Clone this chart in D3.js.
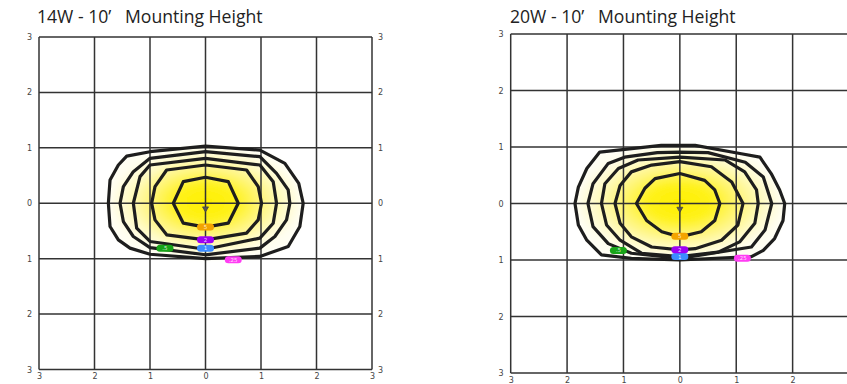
<!DOCTYPE html>
<html><head><meta charset="utf-8">
<script src="https://cdn.jsdelivr.net/npm/d3@7"></script>
<style>
html,body{margin:0;padding:0;background:#fff;overflow:hidden;}
svg{display:block;}
text{white-space:pre;}
</style></head>
<body>
<svg id="chart" width="847" height="384"></svg>
<script>
// ---------- data (feet, x = lateral, y = distance; positive y = front) ----------
const titles = ["14W - 10\u2019   Mounting Height", "20W - 10\u2019   Mounting Height"];
const tickValues = [-3, -2, -1, 0, 1, 2, 3];
const levelNames = [".25", ".5", "1", "2", "5"];
const levelColors = ["#ff3df3", "#18a418", "#3c8cff", "#9d00f2", "#f3a400"];

// 14W iso-footcandle contours
const left025 = [[0,-1.03],[0.98,-0.96],[1.43,-0.72],[1.68,-0.36],[1.76,0],[1.70,0.42],[1.49,0.78],[0.98,0.96],[0,1.0],[-1,0.92],[-1.36,0.81],[-1.57,0.66],[-1.72,0.42],[-1.75,0],[-1.72,-0.42],[-1.57,-0.69],[-1.42,-0.85],[-1,-0.93]];
const left05  = [[0,-0.93],[0.98,-0.84],[1.28,-0.54],[1.49,-0.24],[1.52,0],[1.46,0.3],[1.25,0.6],[0.98,0.81],[0,0.93],[-1,0.8],[-1.3,0.6],[-1.48,0.33],[-1.54,0],[-1.48,-0.3],[-1.3,-0.57],[-1,-0.81]];
const left1   = [[0,-0.81],[0.98,-0.69],[1.22,-0.39],[1.28,0],[1.22,0.36],[0.98,0.63],[0,0.83],[-1,0.69],[-1.24,0.45],[-1.30,0],[-1.18,-0.48],[-1,-0.69]];
const left2   = [[0,-0.69],[0.74,-0.6],[0.95,-0.3],[1.01,0],[0.95,0.3],[0.74,0.54],[0,0.66],[-0.7,0.57],[-0.91,0.3],[-0.97,0],[-0.91,-0.3],[-0.7,-0.6]];
const left5   = [[0,-0.47],[0.41,-0.39],[0.59,0],[0.41,0.36],[0,0.43],[-0.4,0.36],[-0.58,0],[-0.4,-0.39]];
const leftLabelX = [0.5, -0.73, 0, 0, 0];
const leftLabelY = [1.02, 0.81, 0.81, 0.66, 0.43];

// 20W iso-footcandle contours
const right025 = [[0,-1.03],[0.27,-1.03],[1.09,-0.88],[1.42,-0.82],[1.62,-0.53],[1.77,-0.24],[1.86,0],[1.83,0.3],[1.68,0.62],[1.48,0.83],[1.27,0.94],[0,1.0],[-0.86,0.97],[-1.39,0.91],[-1.65,0.65],[-1.80,0.38],[-1.86,0],[-1.80,-0.29],[-1.65,-0.62],[-1.42,-0.91],[-0.33,-1.03]];
const right05  = [[0,-0.91],[0.5,-0.9],[1.16,-0.73],[1.48,-0.47],[1.63,0],[1.51,0.47],[1.27,0.77],[0,0.97],[-0.86,0.88],[-1.27,0.71],[-1.54,0.41],[-1.63,0],[-1.54,-0.35],[-1.27,-0.71],[-0.98,-0.82],[-0.4,-0.9]];
const right1   = [[0,-0.82],[0.8,-0.77],[1.15,-0.56],[1.36,-0.24],[1.39,0],[1.33,0.35],[1.06,0.68],[0.68,0.86],[0,0.94],[-0.68,0.88],[-1.06,0.65],[-1.30,0.38],[-1.39,0],[-1.33,-0.35],[-1.09,-0.62],[-0.74,-0.77]];
const right2   = [[0,-0.74],[0.56,-0.65],[0.92,-0.38],[1.12,0],[1.03,0.38],[0.74,0.65],[0.27,0.80],[0,0.82],[-0.5,0.77],[-0.86,0.59],[-1.06,0.35],[-1.15,0],[-1.06,-0.32],[-0.86,-0.56],[-0.5,-0.68]];
const right5   = [[0,-0.53],[0.44,-0.41],[0.62,-0.24],[0.71,0],[0.62,0.3],[0.38,0.5],[0,0.59],[-0.32,0.5],[-0.59,0.3],[-0.77,0],[-0.62,-0.27],[-0.44,-0.44]];
const rightLabelX = [1.11, -1.09, 0, 0, 0];
const rightLabelY = [0.97, 0.83, 0.94, 0.82, 0.58];

const fixtureY = 0.12;

// ---------- drawing ----------
const svg = d3.select("#chart");
const defs = svg.append("defs");
const grad = defs.append("radialGradient").attr("id","glow").attr("cx","0.5").attr("cy","0.5").attr("r","0.5");
[[0,"#fff000"],[0.3,"#fff21a"],[0.55,"#fff577"],[0.8,"#fffbc8"],[1,"#fffef2"]].forEach(s=>
  grad.append("stop").attr("offset",s[0]).attr("stop-color",s[1]));
defs.append("filter").attr("id","soft").attr("x","-20%").attr("y","-20%").attr("width","140%").attr("height","140%")
  .append("feGaussianBlur").attr("stdDeviation",2.5);

const panels = [
  {title: titles[0], xr:[39,372], yr:[37,369.5], titleX:37, contours:[left025,left05,left1,left2,left5], lx:leftLabelX, ly:leftLabelY, rightAxis:true},
  {title: titles[1], xr:[510.7,849], yr:[34,373], titleX:510, contours:[right025,right05,right1,right2,right5], lx:rightLabelX, ly:rightLabelY, rightAxis:false}
];

const fmt = d => String(Math.abs(d));

panels.forEach(p => {
  const x = d3.scaleLinear().domain([-3,3]).range(p.xr);
  const y = d3.scaleLinear().domain([-3,3]).range(p.yr);
  const g = svg.append("g");
  const line = d3.line().x(d=>x(d[0])).y(d=>y(d[1])).curve(d3.curveLinearClosed);

  // title
  g.append("text").attr("x",p.titleX).attr("y",22.5)
    .attr("font-family","'Open Sans', 'Noto Sans', sans-serif").attr("font-size",17.6).attr("fill","#222")
    .text(p.title);

  // glow fill
  g.append("path").datum(p.contours[0]).attr("d",line)
    .attr("fill","url(#glow)").attr("filter","url(#soft)");

  // grid
  const grid = g.append("g").attr("stroke","#333").attr("stroke-width",1.5).attr("fill","none");
  grid.selectAll(".v").data(tickValues).join("line")
    .attr("x1",d=>x(d)).attr("x2",d=>x(d)).attr("y1",y(-3)).attr("y2",y(3));
  grid.selectAll(".h").data(tickValues).join("line").attr("class","h")
    .attr("y1",d=>y(d)).attr("y2",d=>y(d)).attr("x1",x(-3)).attr("x2",x(3));

  // axes labels
  const axStyle = sel => {
    sel.select(".domain").remove();
    sel.selectAll("text").attr("font-family","'DejaVu Sans', sans-serif").attr("font-size",8).attr("fill","#444");
  };
  g.append("g").attr("transform",`translate(${x(-3)},0)`)
    .call(d3.axisLeft(y).tickValues(tickValues).tickFormat(fmt).tickSize(0).tickPadding(7)).call(axStyle);
  if (p.rightAxis) {
    g.append("g").attr("transform",`translate(${x(3)},0)`)
      .call(d3.axisRight(y).tickValues(tickValues).tickFormat(fmt).tickSize(0).tickPadding(6)).call(axStyle);
  }
  const bottomTicks = p.rightAxis ? tickValues : tickValues.filter(v => x(v) < 846);
  g.append("g").attr("transform",`translate(0,${y(3)})`)
    .call(d3.axisBottom(x).tickValues(bottomTicks).tickFormat(fmt).tickSize(0).tickPadding(4)).call(axStyle);

  // contours
  g.append("g").selectAll("path").data(p.contours).join("path")
    .attr("d",line).attr("fill","none").attr("stroke","#1e1e1e")
    .attr("stroke-width",3.2).attr("stroke-linejoin","round");

  // fixture marker
  const fx = x(0), fy = y(fixtureY);
  g.append("path").attr("d",`M${fx-3},${fy-3}L${fx+3},${fy-3}L${fx},${fy+2}Z`)
    .attr("fill","#555").attr("stroke","#444").attr("stroke-width",0.8);

  // level labels
  const lab = g.append("g").selectAll("g").data(levelNames).join("g")
    .attr("transform",(d,i)=>`translate(${x(p.lx[i])},${y(p.ly[i])})`);
  lab.append("rect").attr("x",-8.5).attr("y",-3.5).attr("width",17).attr("height",7).attr("rx",3.5)
    .attr("fill",(d,i)=>levelColors[i]);
  lab.append("text").attr("text-anchor","middle").attr("y",2)
    .attr("font-family","'DejaVu Sans', sans-serif").attr("font-size",5.5).attr("fill","#fff")
    .attr("fill-opacity",0.85).text(d=>d);
});
</script>
</body></html>
